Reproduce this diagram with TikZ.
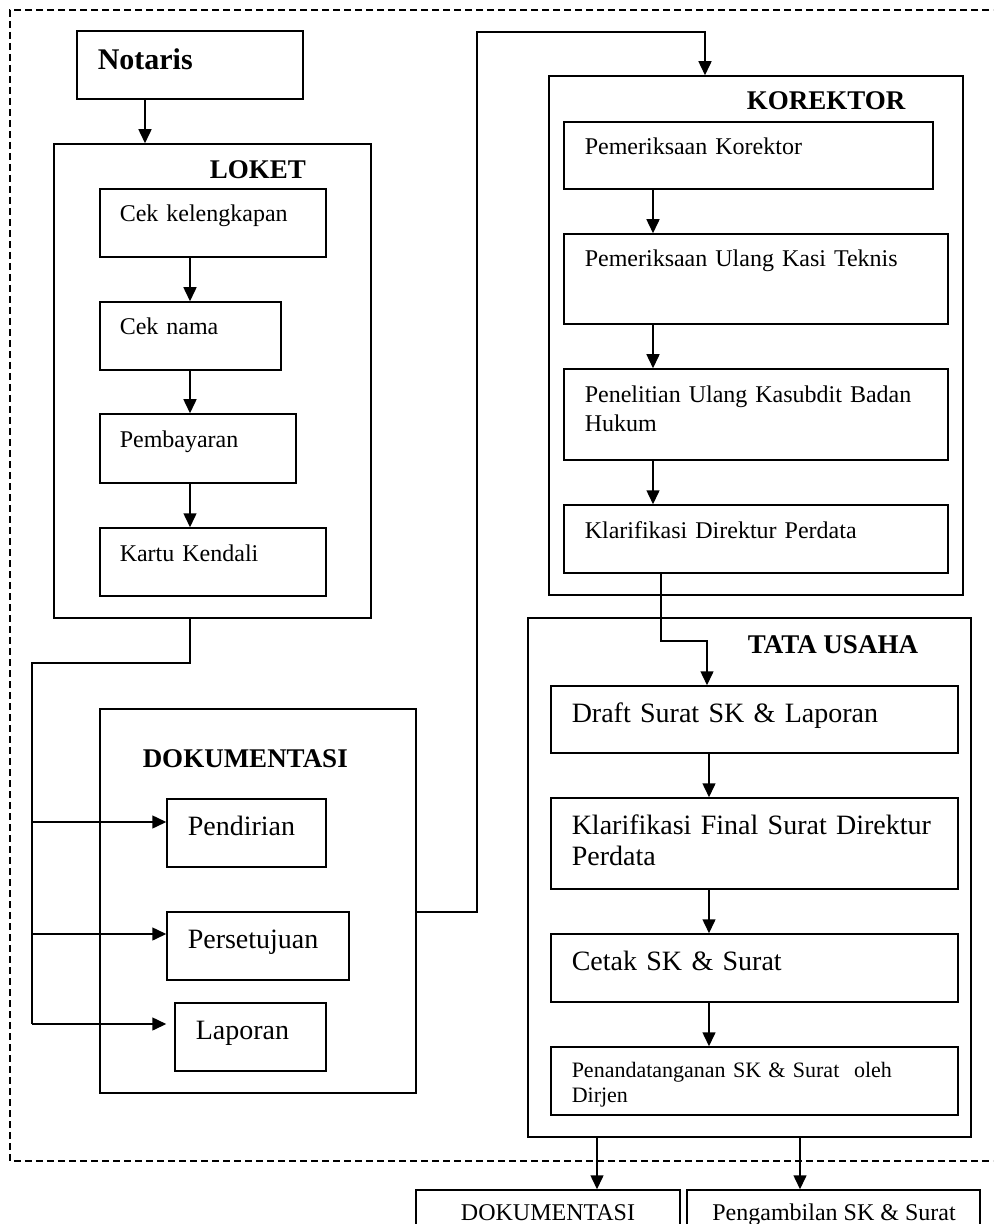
\documentclass[tikz,border=0pt]{standalone}
\usepackage{fontspec}
\setmainfont{Liberation Serif}
\usetikzlibrary{arrows.meta,fit}
\tikzset{
  box/.style={draw,inner sep=0pt},
  txt/.style={anchor=base west,inner sep=0pt,text width=220pt,align=left,font=\fontsize{12}{14.5}\selectfont},
  btxt/.style={txt,font=\fontsize{14}{15.5}\selectfont},
  stxt/.style={txt,font=\fontsize{11}{12.5}\selectfont},
  head/.style={anchor=base west,inner sep=0pt,font=\fontsize{13.5}{16}\selectfont\bfseries},
  arr/.style={-{Triangle[length=7pt,width=6.5pt]}},
}
\begin{document}
\begin{tikzpicture}[x=0.5pt,y=-0.5pt,line width=0.75pt]
\useasboundingbox (0,0) rectangle (993,1224);
\clip (0,0) rectangle (993,1224);
\draw[line width=0.6pt,dash pattern=on 3.5pt off 2pt] (1000,10) -- (10,10) -- (10,1161) -- (1000,1161);

\node[box,fit={(77,31) (303,99)}] (notaris) {};
\node[head,font=\fontsize{15}{18}\selectfont\bfseries] (notaris-t) at (97,70) {Notaris};

% LOKET
\node[box,fit={(54,144) (371,618)}] (loket) {};
\node[head] (loket-t) at (209,179) {LOKET};
\foreach \nm/\xa/\ya/\xb/\yb/\lbl in {kel/100/189/326/257/{Cek kelengkapan},nama/100/302/281/370/{Cek nama},
  bayar/100/414/296/483/{Pembayaran},kartu/100/528/326/596/{Kartu Kendali}}{
  \node[box,fit={(\xa,\ya) (\xb,\yb)}] (\nm) {};
  \node[txt] (\nm-t) at (\xa+19,\ya+33) {\lbl};
}
\draw[arr] (145,0 |- notaris.south) -- (145,0 |- loket.north);
\foreach \p/\q in {kel/nama,nama/bayar,bayar/kartu}
  \draw[arr] (190,0 |- \p.south) -- (190,0 |- \q.north);

% DOKUMENTASI
\node[box,fit={(100,709) (416,1093)}] (dok) {};
\node[head] (dok-t) at (142,767) {DOKUMENTASI};
\foreach \nm/\xa/\ya/\xb/\yb/\lbl in {pend/167/799/326/867/{Pendirian},setuju/167/912/349/980/{Persetujuan},
  lapor/175/1003/326/1071/{Laporan}}{
  \node[box,fit={(\xa,\ya) (\xb,\yb)}] (\nm) {};
  \node[btxt] (\nm-t) at (\xa+20,\ya+36) {\lbl};
}
\coordinate (lk) at (190,663);
\coordinate (sp) at (32,663);
\draw (loket.south -| lk) -- (lk) -- (sp) -- (sp |- 0,1024);
\foreach \y in {822,934,1024}
  \draw[arr] (sp |- 0,\y) -- (pend.west |- 0,\y);

% KOREKTOR
\node[box,fit={(549,76) (963,595)}] (kor) {};
\node[head] (kor-t) at (746,110) {KOREKTOR};
\foreach \nm/\xa/\ya/\xb/\yb/\lbl in {pk/564/122/933/189/{Pemeriksaan Korektor},pu/564/234/948/324/{Pemeriksaan Ulang Kasi Teknis},
  pn/564/369/948/460/{Penelitian Ulang Kasubdit Badan\\Hukum},kd/564/505/948/573/{Klarifikasi Direktur Perdata}}{
  \node[box,fit={(\xa,\ya) (\xb,\yb)}] (\nm) {};
  \node[txt] (\nm-t) at (\xa+20,\ya+33) {\lbl};
}
\foreach \p/\q in {pk/pu,pu/pn,pn/kd}
  \draw[arr] (653,0 |- \p.south) -- (653,0 |- \q.north);
\draw[arr] (dok.east |- 0,912) -- (477,912) -- (477,32) -- (705,32) -- (705,0 |- kor.north);

% TATA USAHA
\node[box,fit={(528,618) (971,1137)}] (tu) {};
\node[head] (tu-t) at (747,653) {TATA USAHA};
\foreach \nm/\xa/\ya/\xb/\yb/\lbl in {dr/551/686/958/753/{Draft Surat SK \& Laporan},kf/551/798/958/889/{Klarifikasi Final Surat Direktur\\Perdata},
  ck/551/934/958/1002/{Cetak SK \& Surat}}{
  \node[box,fit={(\xa,\ya) (\xb,\yb)}] (\nm) {};
  \node[btxt] (\nm-t) at (\xa+20,\ya+36) {\lbl};
}
\node[box,fit={(551,1047) (958,1115)}] (pt) {};
\node[stxt] (pt-t) at (571,1077) {Penandatanganan SK \& Surat~ oleh\\Dirjen};
\foreach \p/\q in {dr/kf,kf/ck,ck/pt}
  \draw[arr] (709,0 |- \p.south) -- (709,0 |- \q.north);
\draw[arr] (661,0 |- kd.south) -- (661,641) -- (707,641) -- (707,0 |- dr.north);

% keluaran
\node[box,fit={(416,1190) (680,1300)}] (bd) {};
\node[anchor=base,inner sep=0pt,font=\fontsize{12}{14}\selectfont] (bd-t) at (548,1220) {DOKUMENTASI};
\node[box,fit={(687,1190) (980,1300)}] (bp) {};
\node[anchor=base,inner sep=0pt,font=\fontsize{12}{14}\selectfont] (bp-t) at (834,1220) {Pengambilan SK \& Surat};
\foreach \x/\b in {597/bd,800/bp}
  \draw[arr] (\x,0 |- tu.south) -- (\x,0 |- \b.north);
\end{tikzpicture}
\end{document}
